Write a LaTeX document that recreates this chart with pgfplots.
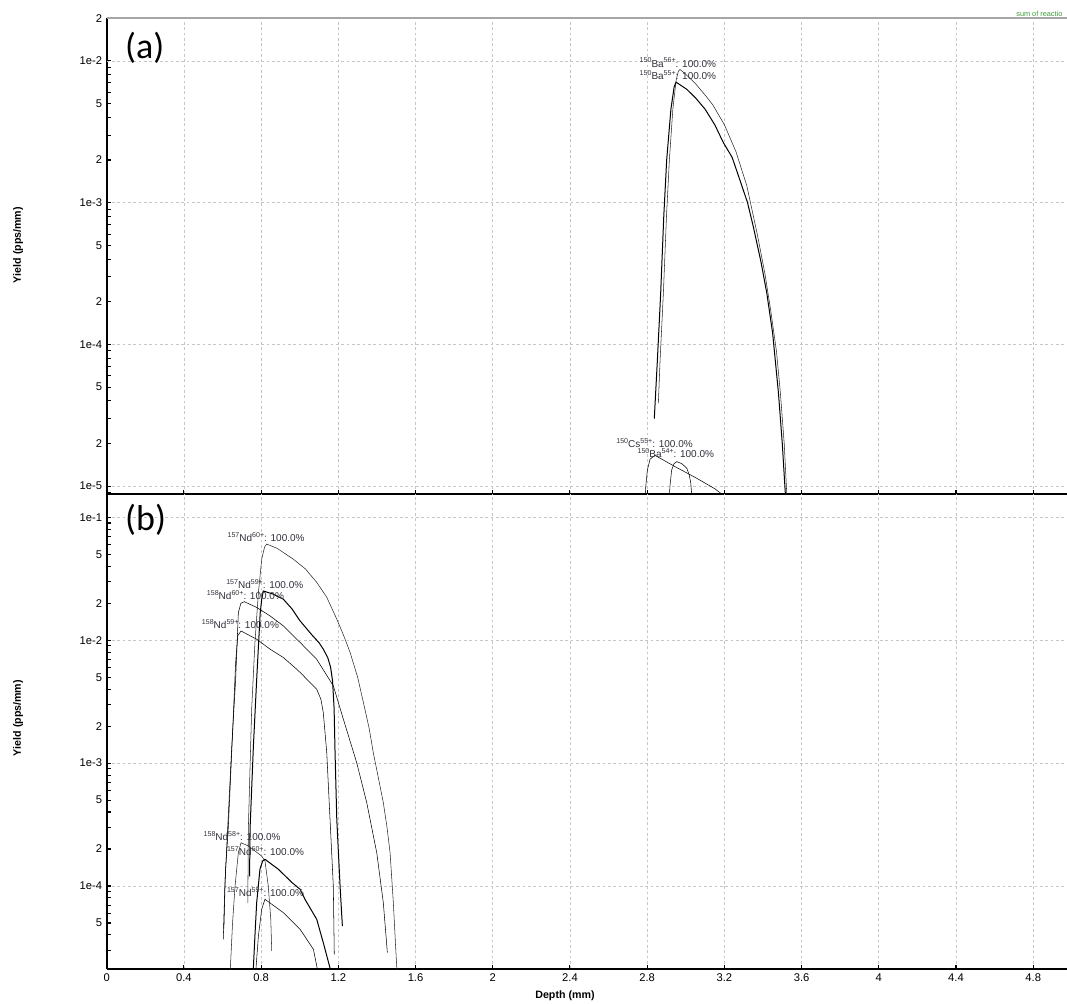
\documentclass[border=0pt]{standalone}
\usepackage{fontspec}
\setmainfont{Liberation Sans}
\newfontfamily\calib{Carlito}
\usepackage{pgfplots}
\pgfplotsset{compat=1.18}
\definecolor{lbl}{HTML}{30303C}
\definecolor{grn}{HTML}{3C9A3C}
\newcommand{\sps}[1]{\raisebox{0.42em}{\fontsize{5.3}{5.3}\selectfont #1}}
\newcommand{\iso}[3]{\sps{#1}#2\sps{#3}: 100.0\%}
\tikzset{curvelab/.style={anchor=west, inner sep=0pt, text=lbl, font=\fontsize{7.5}{8}\selectfont}}
\begin{document}
\begin{tikzpicture}
\useasboundingbox (-80.025pt,-381.75pt) rectangle (720.2pt,370.5pt);
% ---------------- top panel (a) ----------------
\begin{axis}[name=top, at={(0pt,0pt)}, anchor=south west,
  scale only axis, width=720.2pt, height=356.8pt,
  xmin=0, xmax=4.975, ymode=log,
  ymin=8.8e-6, ymax=2e-2,
  axis x line*=bottom, axis y line*=left,
  x axis line style={line width=1.4pt},
  y axis line style={line width=1.8pt},
  tick align=inside,
  major tick length=3pt, minor tick length=3pt,
  tick style={black, line width=0.8pt},
  xtick={0,0.4,0.8,1.2,1.6,2,2.4,2.8,3.2,3.6,4,4.4,4.8},
  xticklabels={},
  xmajorgrids,
  grid style={gray!45, line width=0.5pt, dash pattern=on 2pt off 2pt},
  tick label style={font=\fontsize{8.4}{10}\selectfont},
  ytick={2e-5,5e-5,2e-4,5e-4,2e-3,5e-3,2e-2},
  yticklabels={2,5,2,5,2,5,2},
  extra y ticks={1e-5,1e-4,1e-3,1e-2},
  extra y tick labels={1e-5,1e-4,1e-3,1e-2},
  extra y tick style={ymajorgrids=true},
  minor ytick={9e-6,3e-5,4e-5,6e-5,7e-5,8e-5,9e-5,3e-4,4e-4,6e-4,7e-4,8e-4,9e-4,3e-3,4e-3,6e-3,7e-3,8e-3,9e-3},
  cycle list={{black!85, line width=0.75pt, solid, mark=none}},
]
% 150Ba56+
\addplot coordinates {(2.858,3.85e-5) (2.867,7.8e-5) (2.884,2.3e-4) (2.900,8.0e-4) (2.915,2.0e-3) (2.933,4.56e-3) (2.950,7.3e-3) (2.962,8.5e-3) (2.970,8.71e-3) (3.005,7.94e-3) (3.05,6.92e-3) (3.10,5.75e-3) (3.14,4.90e-3) (3.20,3.55e-3) (3.26,2.29e-3) (3.316,1.32e-3) (3.37,6.03e-4) (3.41,3.16e-4) (3.44,1.74e-4) (3.47,8.91e-5) (3.49,4.57e-5) (3.51,2.0e-5) (3.525,7.9e-6)};
% 150Ba55+
\addplot coordinates {(2.837,3.0e-5) (2.853,7.8e-5) (2.870,2.3e-4) (2.886,8.0e-4) (2.901,2.0e-3) (2.923,4.56e-3) (2.940,6.6e-3) (2.950,7.08e-3) (3.005,6.31e-3) (3.05,5.5e-3) (3.10,4.57e-3) (3.15,3.55e-3) (3.195,2.65e-3) (3.24,2.09e-3) (3.28,1.45e-3) (3.32,1.0e-3) (3.35,6.76e-4) (3.39,3.8e-4) (3.42,2.29e-4) (3.45,1.2e-4) (3.48,4.57e-5) (3.50,2.0e-5) (3.518,7.9e-6)};
% 150Cs55+
\addplot coordinates {(2.789,8.0e-6) (2.793,1.0e-5) (2.801,1.3e-5) (2.815,1.55e-5) (2.84,1.65e-5) (2.95,1.36e-5) (3.05,1.15e-5) (3.15,9.6e-6) (3.21,8.3e-6)};
% 150Ba54+
\addplot coordinates {(2.914,8.0e-6) (2.918,1.0e-5) (2.927,1.3e-5) (2.939,1.44e-5) (2.953,1.49e-5) (2.98,1.44e-5) (3.005,1.34e-5) (3.018,1.2e-5) (3.026,1.05e-5) (3.033,8.0e-6)};
\node[curvelab] at (axis cs:2.760,9.75e-3) {\iso{150}{Ba}{56+}};
\node[curvelab] at (axis cs:2.760,7.92e-3) {\iso{150}{Ba}{55+}};
\node[curvelab] at (axis cs:2.639,2.01e-5) {\iso{150}{Cs}{55+}};
\node[curvelab] at (axis cs:2.749,1.71e-5) {\iso{150}{Ba}{54+}};
\end{axis}
\draw[gray!70, line width=1.5pt] (top.north west) -- (top.north east);
\node[anchor=west, inner sep=0pt, font=\calib\fontsize{27}{30}\selectfont] at (13.7pt,334.5pt) {(a)};
\node[anchor=west, inner sep=0pt, text=grn, font=\fontsize{5.5}{6}\selectfont] at (682pt,360pt) {sum of reactio};
% ---------------- bottom panel (b) ----------------
\begin{axis}[name=bot, at={(0pt,0pt)}, anchor=north west,
  scale only axis, width=720.2pt, height=356.25pt,
  xmin=0, xmax=4.975, ymode=log,
  ymin=2.11e-5, ymax=0.155,
  axis x line*=bottom, axis y line*=left,
  x axis line style={line width=1.4pt},
  y axis line style={line width=1.8pt},
  tick align=inside,
  major tick length=3pt, minor tick length=3pt,
  tick style={black, line width=0.8pt},
  xtick={0,0.4,0.8,1.2,1.6,2,2.4,2.8,3.2,3.6,4,4.4,4.8},
  xticklabels={0,0.4,0.8,1.2,1.6,2,2.4,2.8,3.2,3.6,4,4.4,4.8},
  xmajorgrids,
  grid style={gray!45, line width=0.5pt, dash pattern=on 2pt off 2pt},
  tick label style={font=\fontsize{8.4}{10}\selectfont},
  ytick={5e-5,2e-4,5e-4,2e-3,5e-3,2e-2,5e-2},
  yticklabels={5,2,5,2,5,2,5},
  extra y ticks={1e-4,1e-3,1e-2,1e-1},
  extra y tick labels={1e-4,1e-3,1e-2,1e-1},
  extra y tick style={ymajorgrids=true},
  minor ytick={3e-5,4e-5,6e-5,7e-5,8e-5,9e-5,3e-4,4e-4,6e-4,7e-4,8e-4,9e-4,3e-3,4e-3,6e-3,7e-3,8e-3,9e-3,3e-2,4e-2,6e-2,7e-2,8e-2,9e-2},
  cycle list={{black!85, line width=0.75pt, solid, mark=none}},
]
% 157Nd60+
\addplot coordinates {(0.731,7.3e-5) (0.734,3.0e-4) (0.751,2.75e-3) (0.768,9.6e-3) (0.786,2.45e-2) (0.803,4.57e-2) (0.818,5.75e-2) (0.829,6.07e-2) (0.883,5.6e-2) (0.967,4.57e-2) (1.03,3.8e-2) (1.088,2.96e-2) (1.14,2.24e-2) (1.192,1.486e-2) (1.23,1.07e-2) (1.261,7.96e-3) (1.30,5.01e-3) (1.330,3.11e-3) (1.36,1.91e-3) (1.381,1.22e-3) (1.41,7.24e-4) (1.433,4.78e-4) (1.452,3.02e-4) (1.468,1.87e-4) (1.485,7.33e-5) (1.497,3.16e-5) (1.505,1.9e-5)};
% 157Nd59+
\addplot coordinates {(0.740,1.2e-4) (0.743,3.0e-4) (0.760,1.38e-3) (0.777,4.8e-3) (0.795,1.65e-2) (0.803,2.16e-2) (0.811,2.52e-2) (0.86,2.38e-2) (0.915,2.16e-2) (0.96,1.80e-2) (1.0,1.45e-2) (1.06,1.12e-2) (1.10,9.55e-3) (1.122,8.47e-3) (1.145,7.24e-3) (1.160,6.03e-3) (1.170,4.68e-3) (1.178,2.82e-3) (1.183,1.22e-3) (1.192,3.49e-4) (1.209,1.0e-4) (1.221,4.72e-5)};
% 158Nd60+
\addplot coordinates {(0.604,3.68e-5) (0.612,1.0e-4) (0.627,3.0e-4) (0.648,1.38e-3) (0.668,4.82e-3) (0.682,1.68e-2) (0.695,2.0e-2) (0.713,2.06e-2) (0.777,1.85e-2) (0.846,1.58e-2) (0.915,1.31e-2) (0.984,1.02e-2) (1.002,9.6e-3) (1.088,7.0e-3) (1.174,4.26e-3) (1.226,2.28e-3) (1.295,1.01e-3) (1.347,4.78e-4) (1.399,1.87e-4) (1.433,7.33e-5) (1.454,2.87e-5)};
% 158Nd59+
\addplot coordinates {(0.607,4.5e-5) (0.615,1.3e-4) (0.630,3.0e-4) (0.653,1.89e-3) (0.668,6.6e-3) (0.679,1.09e-2) (0.696,1.19e-2) (0.777,1.02e-2) (0.846,8.47e-3) (0.915,7.24e-3) (0.984,5.82e-3) (1.002,5.47e-3) (1.088,4.0e-3) (1.11,3.3e-3) (1.122,2.58e-3) (1.140,1.22e-3) (1.157,3.49e-4) (1.174,1.0e-4) (1.179,2.78e-5)};
% 158Nd58+
\addplot coordinates {(0.639,1.9e-5) (0.652,5.0e-5) (0.665,1.0e-4) (0.682,1.87e-4) (0.696,2.25e-4) (0.734,2.12e-4) (0.768,1.93e-4) (0.803,1.75e-4) (0.820,1.6e-4) (0.837,1.0e-4) (0.850,5.36e-5) (0.855,2.96e-5)};
% 157Nd60+ (small)
\addplot coordinates {(0.758,1.9e-5) (0.768,3.94e-5) (0.777,7.33e-5) (0.794,1.37e-4) (0.808,1.6e-4) (0.820,1.65e-4) (0.889,1.37e-4) (0.959,1.07e-4) (1.002,9.4e-5) (1.027,7.8e-5) (1.088,5.36e-5) (1.122,3.46e-5) (1.166,1.9e-5)};
% 157Nd59+ (small)
\addplot coordinates {(0.771,1.9e-5) (0.786,3.92e-5) (0.803,6.46e-5) (0.820,7.8e-5) (0.915,6.07e-5) (1.002,4.44e-5) (1.071,3.05e-5) (1.097,1.9e-5)};
\node[curvelab] at (axis cs:0.625,6.87e-2) {\iso{157}{Nd}{60+}};
\node[curvelab] at (axis cs:0.618,2.86e-2) {\iso{157}{Nd}{59+}};
\node[curvelab] at (axis cs:0.518,2.33e-2) {\iso{158}{Nd}{60+}};
\node[curvelab] at (axis cs:0.492,1.35e-2) {\iso{158}{Nd}{59+}};
\node[curvelab] at (axis cs:0.501,2.55e-4) {\iso{158}{Nd}{58+}};
\node[curvelab] at (axis cs:0.622,1.93e-4) {\iso{157}{Nd}{60+}};
\node[curvelab] at (axis cs:0.622,8.93e-5) {\iso{157}{Nd}{59+}};
\end{axis}
\node[anchor=west, inner sep=0pt, font=\calib\fontsize{27}{30}\selectfont] at (13.7pt,-19.5pt) {(b)};
\node[rotate=90, inner sep=0pt, font=\bfseries\fontsize{8}{9.6}\selectfont] at (-66.5pt,186.75pt) {Yield (pps/mm)};
\node[rotate=90, inner sep=0pt, font=\bfseries\fontsize{8}{9.6}\selectfont] at (-66.5pt,-168pt) {Yield (pps/mm)};
\node[inner sep=0pt, font=\bfseries\fontsize{8}{9.6}\selectfont] at (343.7pt,-376.5pt) {Depth (mm)};
\end{tikzpicture}
\end{document}
